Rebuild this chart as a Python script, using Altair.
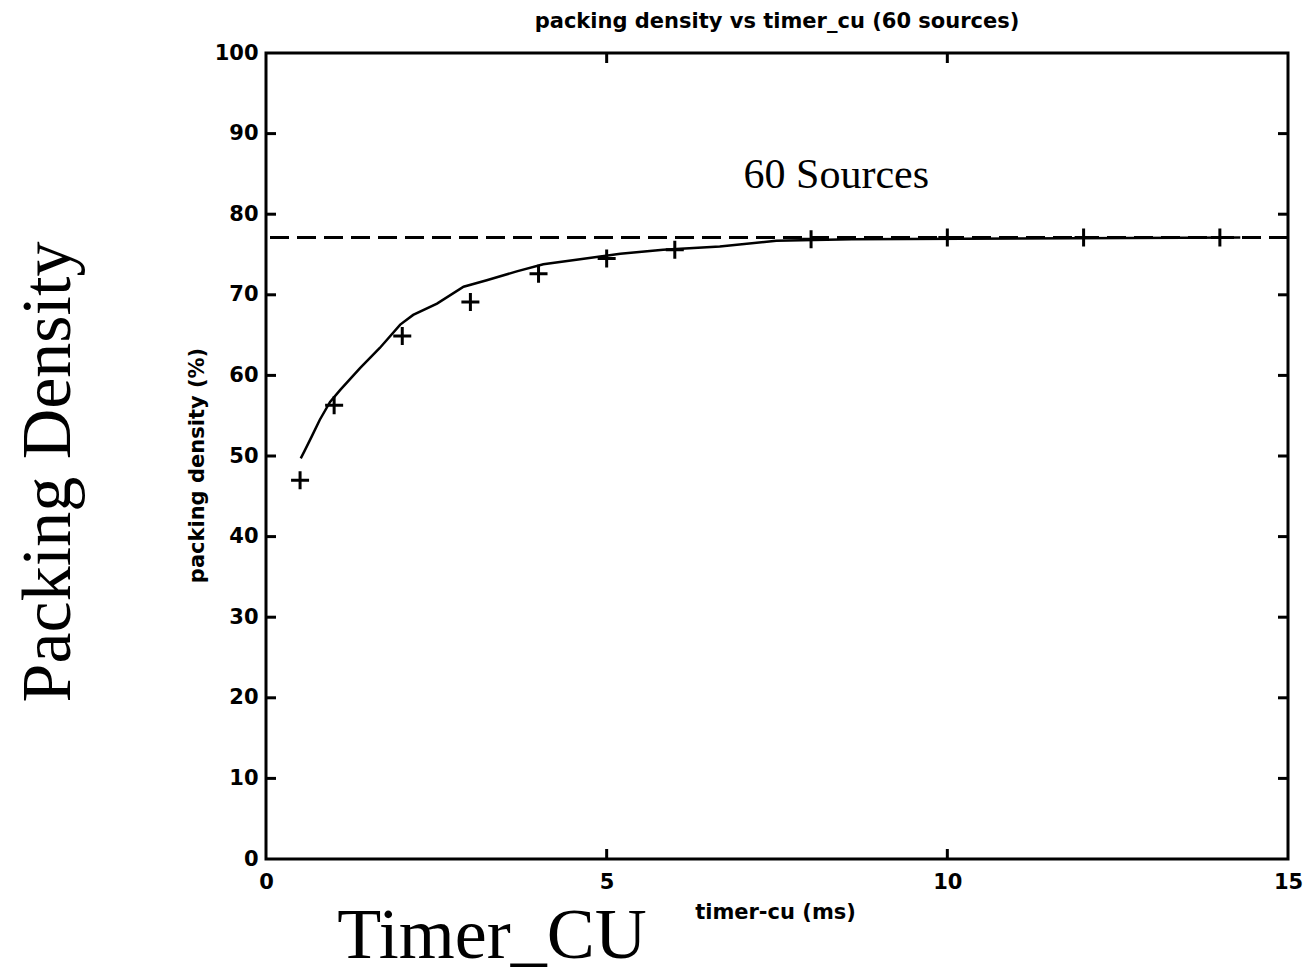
import altair as alt
import pandas as pd

# curve (simulation / analytic line)
curve_x = [0.51, 0.57, 0.67, 0.79, 0.94, 1.09, 1.38, 1.67, 1.97, 2.16, 2.51, 2.90,
           3.24, 3.68, 4.07, 4.61, 5.20, 5.83, 6.66, 7.49, 8.60, 14.30]
curve_y = [49.7, 50.7, 52.4, 54.5, 56.7, 58.2, 60.9, 63.4, 66.3, 67.5, 68.9, 71.0,
           71.8, 72.9, 73.8, 74.4, 75.1, 75.6, 76.0, 76.7, 76.9, 77.1]

# '+' markers
mark_x = [0.5, 1, 2, 3, 4, 5, 6, 8, 10, 12, 14]
mark_y = [47.0, 56.3, 64.9, 69.1, 72.6, 74.5, 75.6, 76.9, 77.1, 77.1, 77.1]

# asymptote
limit_y = [77.1]

# annotation
note_text = ["60 Sources"]
note_x = [8.37]
note_y = [83.3]

x_ticks = [0, 5, 10, 15]
y_ticks = [0, 10, 20, 30, 40, 50, 60, 70, 80, 90, 100]
x_inner = [5, 10]
y_inner = [10, 20, 30, 40, 50, 60, 70, 80, 90]

W, H = 1022, 806
LBL = "DejaVu Sans"
SERIF = "Liberation Serif"

xs = alt.Scale(domain=[0, 15], nice=False, zero=False)
ys = alt.Scale(domain=[0, 100], nice=False)

curve_df = pd.DataFrame({"x": curve_x, "y": curve_y})
mark_df = pd.DataFrame({"x": mark_x, "y": mark_y})
limit_df = pd.DataFrame({"y": limit_y})
note_df = pd.DataFrame({"x": note_x, "y": note_y, "t": note_text})
xi_df = pd.DataFrame({"x": x_inner})
yi_df = pd.DataFrame({"y": y_inner})

x_axis = alt.Axis(values=x_ticks, format="d", ticks=False, domain=False, grid=False,
                  labelFont=LBL, labelFontWeight="bold", labelFontSize=21,
                  labelColor="black", labelPadding=12, labelFlush=False,
                  title="timer-cu (ms)", titleFont=LBL, titleFontWeight="bold",
                  titleFontSize=21, titleColor="black", titleX=509, titleY=53,
                  titleAlign="center", titleBaseline="middle")
y_axis = alt.Axis(values=y_ticks, format="d", ticks=False, domain=False, grid=False,
                  labelFont=LBL, labelFontWeight="bold", labelFontSize=21,
                  labelColor="black", labelPadding=8, labelFlush=False,
                  title="packing density (%)", titleFont=LBL, titleFontWeight="bold",
                  titleFontSize=21, titleColor="black", titleX=-69, titleY=412,
                  titleAlign="center", titleBaseline="middle", titleAngle=270)

curve = alt.Chart(curve_df).mark_line(color="black", strokeWidth=2.5, interpolate="linear").encode(
    x=alt.X("x:Q", scale=xs, axis=x_axis),
    y=alt.Y("y:Q", scale=ys, axis=y_axis),
)

plus = alt.Chart(mark_df).mark_point(shape="M-1,0L1,0M0,-1L0,1", size=324, filled=False,
                                     color="black", strokeWidth=3, opacity=1).encode(
    x=alt.X("x:Q", scale=xs), y=alt.Y("y:Q", scale=ys))

limit = alt.Chart(limit_df).mark_rule(color="black", strokeWidth=3, strokeDash=[19, 8]).encode(
    y=alt.Y("y:Q", scale=ys))

note = alt.Chart(note_df).mark_text(font=SERIF, fontSize=42, align="center",
                                    baseline="alphabetic", color="black").encode(
    x=alt.X("x:Q", scale=xs), y=alt.Y("y:Q", scale=ys), text="t:N")

tl = alt.Chart(yi_df).mark_rule(color="black", strokeWidth=3).encode(
    y=alt.Y("y:Q", scale=ys), x=alt.value(0), x2=alt.value(10))
tr = alt.Chart(yi_df).mark_rule(color="black", strokeWidth=3).encode(
    y=alt.Y("y:Q", scale=ys), x=alt.value(W), x2=alt.value(W - 10))
tt = alt.Chart(xi_df).mark_rule(color="black", strokeWidth=3).encode(
    x=alt.X("x:Q", scale=xs), y=alt.value(0), y2=alt.value(10))
tb = alt.Chart(xi_df).mark_rule(color="black", strokeWidth=3).encode(
    x=alt.X("x:Q", scale=xs), y=alt.value(H), y2=alt.value(H - 10))

big_y = alt.Chart(pd.DataFrame({"t": ["Packing Density"]})).mark_text(
    font=SERIF, fontSize=70, angle=270, align="center", baseline="alphabetic",
    color="black").encode(x=alt.value(-196), y=alt.value(419), text="t:N")
big_x = alt.Chart(pd.DataFrame({"t": ["Timer_CU"]})).mark_text(
    font=SERIF, fontSize=72, align="center", baseline="alphabetic",
    color="black").encode(x=alt.value(226), y=alt.value(905), text="t:N")

chart = alt.layer(limit, curve, plus, note, tl, tr, tt, tb, big_y, big_x).properties(
    width=W, height=H,
    title=alt.TitleParams("packing density vs timer_cu (60 sources)", font=LBL,
                          fontWeight="bold", fontSize=21, color="black",
                          anchor="middle", offset=10),
    autosize=alt.AutoSizeParams(type="none"),
    padding={"left": 266, "top": 53, "right": 18, "bottom": 118},
    background="white",
).configure_view(stroke="black", strokeWidth=3)

chart.save("out.html", embed_options={"renderer": "svg", "actions": False})
